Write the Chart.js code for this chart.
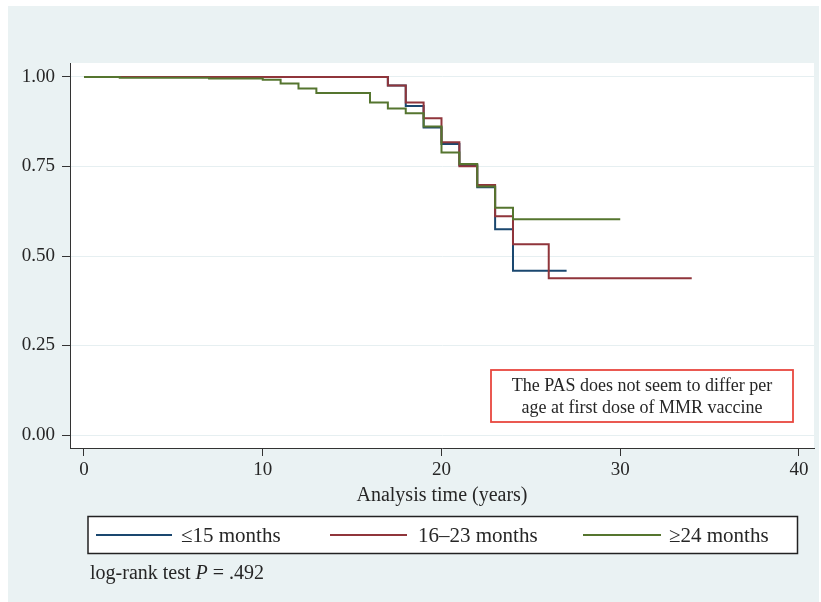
<!DOCTYPE html>
<html>
<head>
<meta charset="utf-8">
<script src="https://cdn.jsdelivr.net/npm/chart.js@4/dist/chart.umd.min.js"></script>
<style>
html,body{margin:0;padding:0;background:#fff;}
canvas{display:block;}
</style>
</head>
<body>
<canvas id="c" width="821" height="602"></canvas>
<script>
// ---- data ----
const seriesLabels = ['\u226415 months', '16\u201323 months', '\u226524 months'];
const blueTimes  = [0, 17, 18, 19, 20, 21, 22, 23, 24, 27];
const blueValues = [1, 0.976, 0.919, 0.859, 0.813, 0.754, 0.692, 0.575, 0.459, 0.459];
const redTimes   = [0, 17, 18, 19, 20, 21, 22, 23, 24, 26, 34];
const redValues  = [1, 0.976, 0.929, 0.885, 0.818, 0.751, 0.698, 0.611, 0.533, 0.438, 0.438];
const greenTimes = [0, 2, 7, 10, 11, 12, 13, 16, 17, 18, 19, 20, 21, 22, 23, 24, 30];
const greenValues= [1, 0.998, 0.996, 0.992, 0.982, 0.968, 0.955, 0.929, 0.912, 0.899, 0.862, 0.789, 0.757, 0.694, 0.635, 0.603, 0.603];
const xTickValues = [0, 10, 20, 30, 40];
const yTickValues = [0, 0.25, 0.5, 0.75, 1];
const xTitle = 'Analysis time (years)';
const noteLines = ['The PAS does not seem to differ per', 'age at first dose of MMR vaccine'];
const footText = ['log-rank test ', 'P', ' = .492'];

const colors = ['#1a476f', '#90353b', '#55752f'];
const SERIF = '"Liberation Serif", "DejaVu Serif", serif';
const TXT = '#262626';
const BG = '#eaf2f3';

function pts(t, v) { return t.map((x, i) => ({x: x, y: v[i]})); }

const datasets = [
  {label: seriesLabels[0], data: pts(blueTimes, blueValues), borderColor: colors[0], order: 2},
  {label: seriesLabels[1], data: pts(redTimes, redValues), borderColor: colors[1], order: 1},
  {label: seriesLabels[2], data: pts(greenTimes, greenValues), borderColor: colors[2], order: 0}
].map(d => Object.assign(d, {stepped: true, borderWidth: 2, pointRadius: 0, fill: false, tension: 0}));

const decor = {
  id: 'decor',
  beforeDraw(chart) {
    const ctx = chart.ctx, a = chart.chartArea;
    ctx.save();
    ctx.fillStyle = '#fff';
    ctx.fillRect(0, 0, chart.width, chart.height);
    ctx.fillStyle = BG;
    ctx.fillRect(8, 6, 811, 596);
    ctx.fillStyle = '#fff';
    ctx.fillRect(a.left, a.top, a.right - a.left, a.bottom - a.top);
    ctx.restore();
  },
  afterDraw(chart) {
    const ctx = chart.ctx, a = chart.chartArea;
    ctx.save();
    // x axis title
    ctx.fillStyle = TXT;
    ctx.font = '20px ' + SERIF;
    ctx.textAlign = 'center';
    ctx.textBaseline = 'alphabetic';
    ctx.fillText(xTitle, (a.left + a.right) / 2 + 0, 501);

    // annotation box
    ctx.fillStyle = '#fff';
    ctx.fillRect(491, 370, 302, 52);
    ctx.strokeStyle = '#e8473f';
    ctx.lineWidth = 1.8;
    ctx.strokeRect(491, 370, 302, 52);
    ctx.fillStyle = TXT;
    ctx.font = '18px ' + SERIF;
    ctx.textAlign = 'center';
    ctx.fillText(noteLines[0], 642, 391);
    ctx.fillText(noteLines[1], 642, 413);

    // legend box
    ctx.fillStyle = '#fff';
    ctx.fillRect(88, 516.5, 709.5, 37);
    ctx.strokeStyle = '#222';
    ctx.lineWidth = 1.5;
    ctx.strokeRect(88, 516.5, 709.5, 37);
    const lx = [[96, 172, 181], [330, 407, 418], [583, 661, 669]];
    const ly = 535;
    ctx.font = '21px ' + SERIF;
    ctx.textAlign = 'left';
    ctx.textBaseline = 'middle';
    chart.data.datasets.forEach((d, i) => {
      ctx.strokeStyle = d.borderColor;
      ctx.lineWidth = 2;
      ctx.beginPath();
      ctx.moveTo(lx[i][0], ly);
      ctx.lineTo(lx[i][1], ly);
      ctx.stroke();
      ctx.fillStyle = TXT;
      ctx.fillText(d.label, lx[i][2], ly + 1);
    });

    // footnote
    ctx.textBaseline = 'alphabetic';
    ctx.font = '20px ' + SERIF;
    let x = 90;
    ctx.fillText(footText[0], x, 579);
    x += ctx.measureText(footText[0]).width;
    ctx.font = 'italic 20px ' + SERIF;
    ctx.fillText(footText[1], x, 579);
    x += ctx.measureText(footText[1]).width;
    ctx.font = '20px ' + SERIF;
    ctx.fillText(footText[2], x, 579);
    ctx.restore();
  }
};

new Chart(document.getElementById('c'), {
  type: 'line',
  data: {datasets: datasets},
  plugins: [decor],
  options: {
    responsive: false,
    animation: false,
    events: [],
    layout: {padding: {left: 0, top: 63, right: 7, bottom: 0}},
    plugins: {legend: {display: false}, tooltip: {enabled: false}, title: {display: false}},
    scales: {
      x: {
        type: 'linear',
        min: -0.783,
        max: 40.84,
        afterBuildTicks(s) { s.ticks = xTickValues.map(v => ({value: v})); },
        afterFit(s) { s.height = 154; },
        ticks: {
          color: TXT,
          font: {family: SERIF, size: 19},
          padding: 3,
          maxRotation: 0,
          autoSkip: false,
          callback: v => String(v)
        },
        grid: {drawOnChartArea: false, drawTicks: true, tickLength: 8, tickColor: '#333', tickWidth: 1},
        border: {display: true, color: '#333', width: 1}
      },
      y: {
        type: 'linear',
        min: -0.0363,
        max: 1.0391,
        afterBuildTicks(s) { s.ticks = yTickValues.map(v => ({value: v})); },
        afterFit(s) { s.width = 70; },
        ticks: {
          color: TXT,
          font: {family: SERIF, size: 19},
          padding: 7,
          autoSkip: false,
          callback: v => Number(v).toFixed(2)
        },
        grid: {color: '#e6eff1', lineWidth: 1, drawTicks: true, tickLength: 8, tickColor: '#333', tickWidth: 1},
        border: {display: true, color: '#333', width: 1}
      }
    }
  }
});
</script>
</body>
</html>
